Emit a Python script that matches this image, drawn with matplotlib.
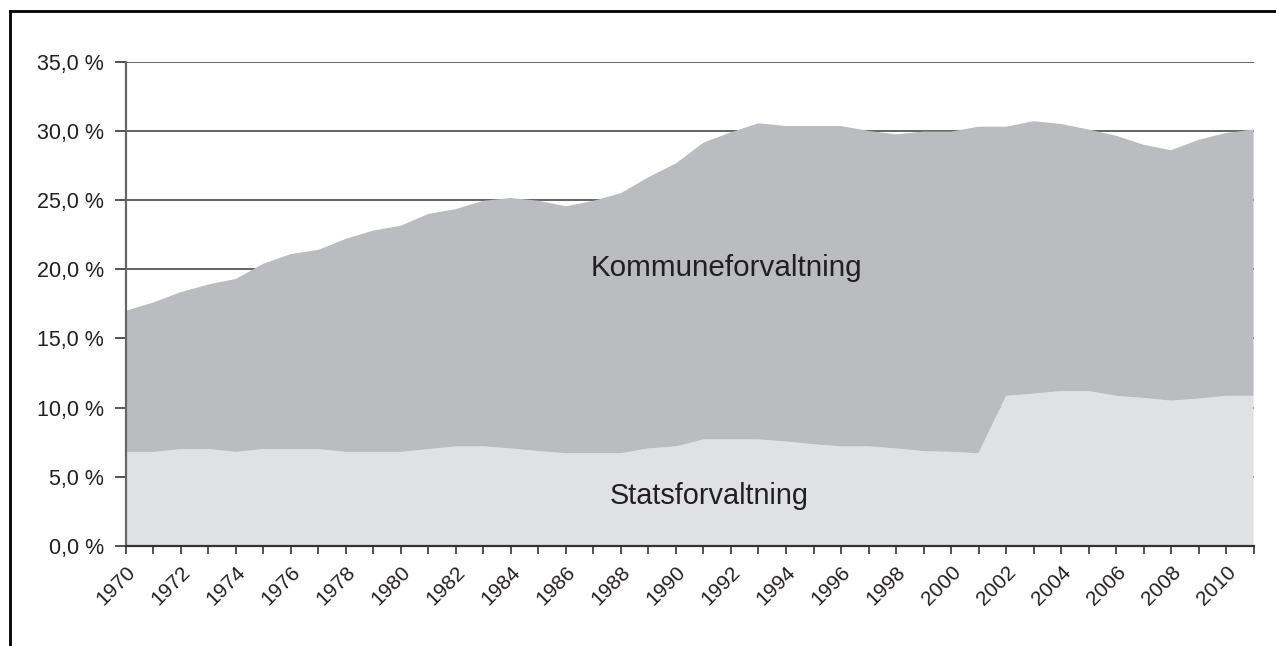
import matplotlib
matplotlib.use("Agg")
import matplotlib.pyplot as plt
from matplotlib.ticker import FuncFormatter, MultipleLocator

years = list(range(1970, 2012))

# Andel (%) - statsforvaltning (nederste lag)
stats = [6.8, 6.8, 7.0, 7.0, 6.8, 7.0, 7.0, 7.0, 6.8, 6.8,
         6.8, 7.0, 7.2, 7.2, 7.05, 6.85, 6.7, 6.7, 6.7, 7.05,
         7.2, 7.7, 7.7, 7.7, 7.55, 7.35, 7.2, 7.2, 7.05, 6.85,
         6.8, 6.7, 10.85, 11.0, 11.2, 11.2, 10.85, 10.7, 10.5, 10.65,
         10.85, 10.85]

# Samlet andel (%) - toppen av kommuneforvaltning
total = [17.0, 17.6, 18.35, 18.9, 19.3, 20.4, 21.1, 21.4, 22.2, 22.8,
         23.15, 24.0, 24.35, 24.95, 25.15, 24.95, 24.55, 24.95, 25.5, 26.65,
         27.65, 29.15, 29.9, 30.55, 30.35, 30.35, 30.35, 30.0, 29.75, 29.95,
         29.95, 30.3, 30.3, 30.7, 30.5, 30.1, 29.65, 29.0, 28.6, 29.35,
         29.85, 30.1]

kommune = [t - s for t, s in zip(total, stats)]
labels = ["Statsforvaltning", "Kommuneforvaltning"]

TXT = "#231f20"
LIGHT = "#e0e1e3"
MID = "#bbbcbf"

plt.rcParams["font.family"] = ["Liberation Sans", "DejaVu Sans"]

fig = plt.figure(figsize=(12.76, 6.46), dpi=100)
ax = fig.add_axes([0.0987, 0.1548, 0.8837, 0.7497])

ax.stackplot(years, stats, kommune, colors=[LIGHT, MID], linewidth=0, zorder=2)

ax.set_xlim(1970, 2011)
ax.set_ylim(0, 35)

ax.yaxis.set_major_locator(MultipleLocator(5))
ax.yaxis.set_major_formatter(FuncFormatter(lambda v, p: f"{v:.1f} %".replace(".", ",")))
ax.grid(axis="y", color="#3a3a3a", linewidth=1.1, zorder=1)
ax.set_axisbelow(True)

ax.set_xticks(years)
ax.set_xticklabels([str(y) if y % 2 == 0 else "" for y in years],
                   rotation=45, ha="right", rotation_mode="anchor")

for side in ["top", "right"]:
    ax.spines[side].set_visible(False)
ax.spines["left"].set_color("#666666")
ax.spines["left"].set_linewidth(1.6)
ax.spines["bottom"].set_color("#333333")
ax.spines["bottom"].set_linewidth(1.6)
ax.spines["left"].set_zorder(4)
ax.spines["bottom"].set_zorder(4)

ax.tick_params(axis="y", length=8, width=1.3, color="#444444", pad=8,
               labelsize=15.5, labelcolor=TXT)
ax.tick_params(axis="x", length=6, width=1.2, color="#333333", pad=6,
               labelsize=15, labelcolor=TXT)

ax.text(1991.85, 20.1, labels[1], ha="center", va="center",
        fontsize=21.3, color=TXT, zorder=5)
ax.text(1991.2, 3.6, labels[0], ha="center", va="center",
        fontsize=20.8, color=TXT, zorder=5)

# ramme rundt figuren (venstre og topp)
fig.add_artist(plt.Line2D([10 / 1276, 10 / 1276], [0, 1 - 11 / 646],
                          transform=fig.transFigure, color="black", linewidth=2))
fig.add_artist(plt.Line2D([10 / 1276, 1], [1 - 11 / 646, 1 - 11 / 646],
                          transform=fig.transFigure, color="black", linewidth=2))

fig.savefig("out.png", dpi=100, facecolor="white")
